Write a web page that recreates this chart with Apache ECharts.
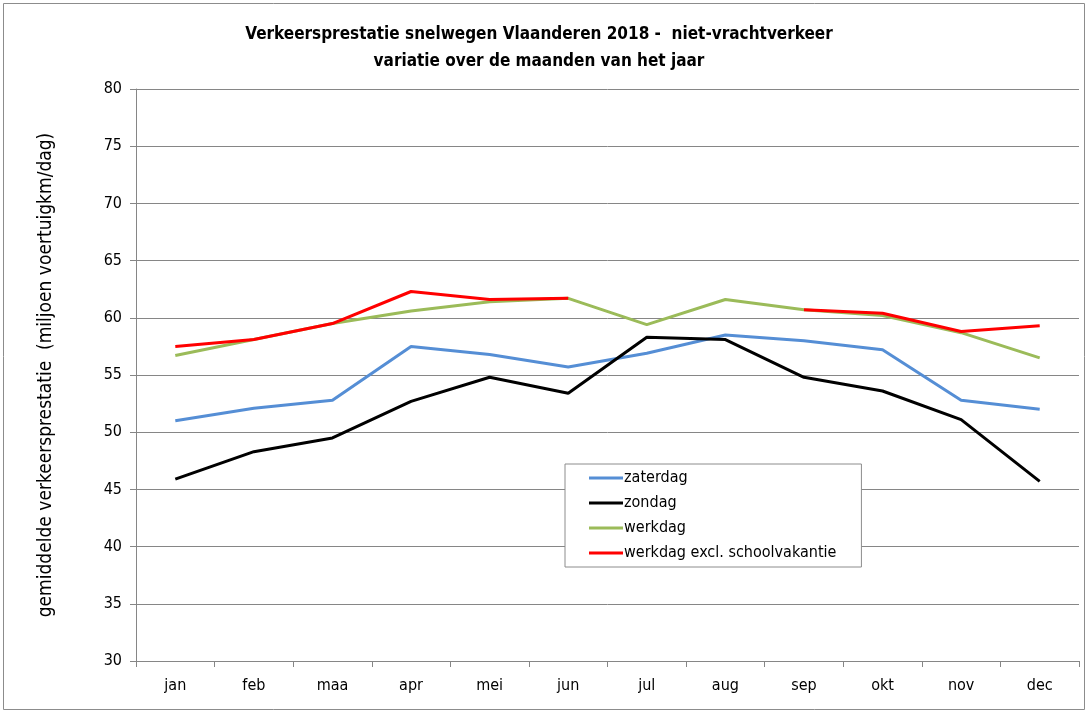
<!DOCTYPE html>
<html>
<head>
<meta charset="utf-8">
<script src="https://cdn.jsdelivr.net/npm/echarts@6/dist/echarts.min.js"></script>
<style>
  html, body { margin: 0; padding: 0; background: #fff; }
  #chart-container { width: 1088px; height: 713px; }
</style>
</head>
<body>
<div id="chart-container"></div>
<script>
const months = ['jan', 'feb', 'maa', 'apr', 'mei', 'jun', 'jul', 'aug', 'sep', 'okt', 'nov', 'dec'];
const zaterdag = [51.0, 52.1, 52.8, 57.5, 56.8, 55.7, 56.9, 58.5, 58.0, 57.2, 52.8, 52.0];
const zondag = [45.9, 48.3, 49.5, 52.7, 54.8, 53.4, 58.3, 58.1, 54.8, 53.6, 51.1, 45.7];
const werkdag = [56.7, 58.1, 59.5, 60.6, 61.4, 61.7, 59.4, 61.6, 60.7, 60.2, 58.7, 56.5];
const werkdagExcl = [57.5, 58.1, 59.5, 62.3, 61.6, 61.7, null, null, 60.7, 60.4, 58.8, 59.3];

const font = '"Liberation Sans Narrow", "DejaVu Sans Condensed", sans-serif';

var dom = document.getElementById("chart-container");
var myChart = echarts.init(dom, null, { renderer: "canvas" });

function line(name, data, color) {
  return {
    name: name,
    type: "line",
    data: data,
    symbol: "none",
    connectNulls: false,
    lineStyle: { color: color, width: 3 },
    itemStyle: { color: color },
  };
}

var option = {
  animation: false,
  textStyle: { fontFamily: font },
  title: {
    text: 'Verkeersprestatie snelwegen Vlaanderen 2018 -  niet-vrachtverkeer\nvariatie over de maanden van het jaar',
    left: 534,
    textAlign: 'center',
    top: 16,
    textStyle: { fontFamily: font, fontSize: 17, fontWeight: 'bold', color: '#000', lineHeight: 27 },
  },
  graphic: [{
    type: 'rect',
    shape: { x: 3.5, y: 3.5, width: 1081, height: 706 },
    style: { fill: null, stroke: '#8c8c8c', lineWidth: 1 },
    silent: true,
  }],
  legend: {
    orient: 'vertical',
    left: 565,
    top: 464,
    padding: [6, 25, 6, 24],
    itemGap: 9,
    itemWidth: 34,
    itemHeight: 3,
    backgroundColor: '#fff',
    borderColor: '#8c8c8c',
    borderWidth: 1,
    icon: 'rect',
    textStyle: { fontFamily: font, fontSize: 16, color: '#000', padding: [0, 0, 0, -4] },
    data: ['zaterdag', 'zondag', 'werkdag', 'werkdag excl. schoolvakantie'],
  },
  grid: { left: 136, right: 9, top: 89, bottom: 52 },
  xAxis: {
    type: 'category',
    data: months,
    boundaryGap: true,
    axisLine: { lineStyle: { color: '#868686', width: 1 } },
    axisTick: { show: true, inside: false, length: 6, alignWithLabel: false, lineStyle: { color: '#868686' } },
    axisLabel: { fontFamily: font, fontSize: 16, color: '#000', margin: 17 },
  },
  yAxis: {
    type: 'value',
    min: 30,
    max: 80,
    interval: 5,
    name: 'gemiddelde verkeersprestatie  (miljoen voertuigkm/dag)',
    nameLocation: 'middle',
    nameGap: 80,
    nameRotate: 90,
    nameTextStyle: { fontFamily: font, fontSize: 19, color: '#000' },
    axisLine: { show: true, lineStyle: { color: '#868686', width: 1 } },
    axisTick: { show: true, length: 6, lineStyle: { color: '#868686' } },
    axisLabel: { fontFamily: font, fontSize: 16, color: '#000', margin: 14 },
    splitLine: { lineStyle: { color: '#868686', width: 1 } },
  },
  series: [
    line('zaterdag', zaterdag, '#558ED5'),
    line('zondag', zondag, '#000000'),
    line('werkdag', werkdag, '#9BBB59'),
    line('werkdag excl. schoolvakantie', werkdagExcl, '#FF0000'),
  ],
};

myChart.setOption(option);
window.addEventListener("resize", myChart.resize);
</script>
</body>
</html>
